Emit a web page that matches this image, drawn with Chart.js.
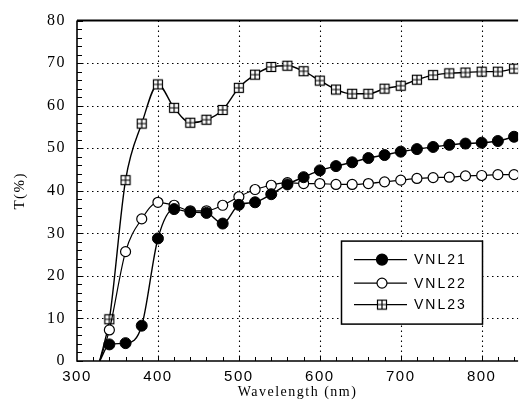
<!DOCTYPE html>
<html>
<head>
<meta charset="utf-8">
<title>Transmittance spectra</title>
<script src="https://cdn.jsdelivr.net/npm/chart.js@4.4.0/dist/chart.umd.min.js"></script>
<style>
  html, body { margin: 0; padding: 0; background: #fff; }
  #wrap { width: 525px; height: 419px; }
</style>
</head>
<body>
<div id="wrap"><canvas id="transChart" width="525" height="419"></canvas></div>
<script>
// wavelength (nm) of each point, first one is where the curves leave zero
const wavelengths = [328, 340, 360, 380, 400, 420, 440, 460, 480, 500, 520, 540, 560,
  580, 600, 620, 640, 660, 680, 700, 720, 740, 760, 780, 800, 820, 840];

// transmittance T(%)
const vnl21 = [0, 3.9, 4.2, 8.3, 28.8, 35.7, 35.0, 34.8, 32.3, 36.7, 37.3, 39.2, 41.5,
  43.2, 44.8, 45.8, 46.7, 47.7, 48.4, 49.2, 49.8, 50.3, 50.8, 51.1, 51.3, 51.7, 52.7];
const vnl22 = [0, 7.3, 25.7, 33.4, 37.3, 36.6, 35.3, 35.3, 36.6, 38.6, 40.3, 41.3, 41.9,
  41.7, 41.7, 41.5, 41.5, 41.7, 42.1, 42.5, 42.9, 43.1, 43.2, 43.5, 43.6, 43.8, 43.8];
const vnl23 = [0, 9.8, 42.5, 55.8, 65.0, 59.5, 56.0, 56.7, 59.0, 64.2, 67.3, 69.1, 69.4,
  68.1, 65.9, 63.8, 62.8, 62.8, 64.0, 64.7, 66.1, 67.2, 67.6, 67.8, 68.0, 68.0, 68.7];

const seriesNames = ["VNL21", "VNL22", "VNL23"];
const xTicks = [300, 400, 500, 600, 700, 800];
const yTicks = [0, 10, 20, 30, 40, 50, 60, 70, 80];

// square marker with a cross inside
function makeBoxMarker() {
  const c = document.createElement("canvas");
  c.width = 12;
  c.height = 12;
  const g = c.getContext("2d");
  g.fillStyle = "#fff";
  g.fillRect(1, 1, 10, 10);
  g.strokeStyle = "#000";
  g.lineWidth = 1.2;
  g.strokeRect(1.5, 1.5, 9, 9);
  g.beginPath();
  g.moveTo(6, 1.5); g.lineTo(6, 10.5);
  g.moveTo(1.5, 6); g.lineTo(10.5, 6);
  g.stroke();
  return c;
}
const boxMarker = makeBoxMarker();

function toPoints(arr) {
  return arr.map((v, i) => ({ x: wavelengths[i], y: v }));
}

// no marker on the zero start point
const markerSize = (r) => (ctx) => (ctx.dataIndex === 0 ? 0 : r);

const datasets = [
  {
    label: seriesNames[0],
    data: toPoints(vnl21),
    borderColor: "#000",
    backgroundColor: "#000",
    borderWidth: 1.4,
    pointStyle: "circle",
    pointRadius: markerSize(5.5),
    pointBorderWidth: 1,
    pointBackgroundColor: "#000",
    pointBorderColor: "#000",
  },
  {
    label: seriesNames[1],
    data: toPoints(vnl22),
    borderColor: "#000",
    backgroundColor: "#fff",
    borderWidth: 1.2,
    pointStyle: "circle",
    pointRadius: markerSize(5),
    pointBorderWidth: 1.2,
    pointBackgroundColor: "#fff",
    pointBorderColor: "#000",
  },
  {
    label: seriesNames[2],
    data: toPoints(vnl23),
    borderColor: "#000",
    backgroundColor: "#fff",
    borderWidth: 1.4,
    pointStyle: boxMarker,
    pointRadius: markerSize(5.5),
  },
];

// dotted grid, solid frame and inward minor ticks
const framePlugin = {
  id: "frame",
  beforeDraw(chart) {
    chart.ctx.letterSpacing = "1.5px";
  },
  beforeDatasetsDraw(chart) {
    const { ctx, chartArea: a, scales } = chart;
    const xs = scales.x, ys = scales.y;
    ctx.save();
    ctx.strokeStyle = "#000";
    ctx.lineWidth = 1.1;
    ctx.setLineDash([1.5, 3.5]);
    xTicks.slice(1).forEach((v) => {
      const px = Math.round(xs.getPixelForValue(v)) + 0.5;
      ctx.beginPath(); ctx.moveTo(px, a.top); ctx.lineTo(px, a.bottom); ctx.stroke();
    });
    yTicks.slice(1, -1).forEach((v) => {
      const py = Math.round(ys.getPixelForValue(v)) + 0.5;
      ctx.beginPath(); ctx.moveTo(a.left, py); ctx.lineTo(a.right, py); ctx.stroke();
    });
    ctx.setLineDash([]);
    // minor ticks
    ctx.lineWidth = 1;
    for (let v = 0; v <= 80; v += 2) {
      const py = Math.round(ys.getPixelForValue(v)) + 0.5;
      const len = v % 10 === 0 ? 6 : 5;
      ctx.beginPath(); ctx.moveTo(a.left, py); ctx.lineTo(a.left + len, py); ctx.stroke();
    }
    for (let v = 320; v <= 840; v += 20) {
      const px = Math.round(xs.getPixelForValue(v)) + 0.5;
      ctx.beginPath(); ctx.moveTo(px, a.bottom); ctx.lineTo(px, a.bottom - 4); ctx.stroke();
    }
    // axes frame
    ctx.lineWidth = 1.6;
    ctx.beginPath();
    ctx.moveTo(a.left, a.top); ctx.lineTo(a.left, a.bottom); ctx.lineTo(a.right, a.bottom);
    ctx.stroke();
    ctx.lineWidth = 2;
    ctx.beginPath(); ctx.moveTo(a.left, a.top); ctx.lineTo(a.right, a.top); ctx.stroke();
    ctx.restore();
  },
  afterDatasetsDraw(chart) {
    const { ctx, chartArea: a } = chart;
    const bx = a.left + 264, by = a.top + 220, bw = 141, bh = 83;
    ctx.save();
    ctx.fillStyle = "#fff";
    ctx.fillRect(bx, by, bw, bh);
    ctx.strokeStyle = "#000";
    ctx.lineWidth = 1.5;
    ctx.strokeRect(bx + 0.5, by + 0.5, bw, bh);
    const rows = [19, 42.5, 64];
    chart.data.datasets.forEach((ds, i) => {
      const y = by + rows[i];
      ctx.strokeStyle = "#000";
      ctx.lineWidth = ds.borderWidth;
      ctx.beginPath(); ctx.moveTo(bx + 13, y); ctx.lineTo(bx + 66, y); ctx.stroke();
      const mx = bx + 41;
      if (i === 2) {
        ctx.drawImage(boxMarker, mx - 6, y - 6);
      } else {
        ctx.beginPath();
        ctx.arc(mx, y, i === 0 ? 5.5 : 5, 0, Math.PI * 2);
        ctx.fillStyle = ds.pointBackgroundColor;
        ctx.fill();
        ctx.lineWidth = 1.2;
        ctx.stroke();
      }
      ctx.fillStyle = "#000";
      ctx.font = "14px 'Liberation Sans', Arial, sans-serif";
      ctx.letterSpacing = "2px";
      ctx.textBaseline = "middle";
      ctx.textAlign = "left";
      ctx.fillText(ds.label, bx + 73, y + 1);
    });
    ctx.restore();
  },
};

new Chart(document.getElementById("transChart").getContext("2d"), {
  type: "line",
  data: { datasets: datasets },
  options: {
    responsive: false,
    devicePixelRatio: 1,
    animation: false,
    cubicInterpolationMode: "monotone",
    layout: { padding: { left: 11, top: 14, right: 0, bottom: 18 } },
    plugins: { legend: { display: false }, tooltip: { enabled: false } },
    elements: { line: { cubicInterpolationMode: "monotone" } },
    scales: {
      x: {
        type: "linear",
        min: 300,
        max: 845,
        grid: { display: false, drawTicks: false },
        border: { display: false },
        afterBuildTicks: (s) => { s.ticks = xTicks.map((v) => ({ value: v })); },
        afterFit: (s) => { s.height = 40; },
        ticks: {
          color: "#000",
          padding: 7,
          maxRotation: 0,
          autoSkip: false,
          font: { family: "'Liberation Sans', Arial, sans-serif", size: 15 },
        },
        title: {
          display: true,
          text: "Wavelength (nm)",
          color: "#000",
          padding: 0,
          font: { family: "'Liberation Serif', 'Times New Roman', serif", size: 14 },
        },
      },
      y: {
        min: 0,
        max: 80,
        grid: { display: false, drawTicks: false },
        border: { display: false },
        afterBuildTicks: (s) => { s.ticks = yTicks.map((v) => ({ value: v })); },
        afterFit: (s) => { s.width = 66; },
        ticks: {
          color: "#000",
          padding: 11,
          font: { family: "'Liberation Serif', 'Times New Roman', serif", size: 16 },
        },
        title: {
          display: true,
          text: "T(%)",
          color: "#000",
          padding: 0,
          font: { family: "'Liberation Serif', 'Times New Roman', serif", size: 15 },
        },
      },
    },
  },
  plugins: [framePlugin],
});
</script>
</body>
</html>
